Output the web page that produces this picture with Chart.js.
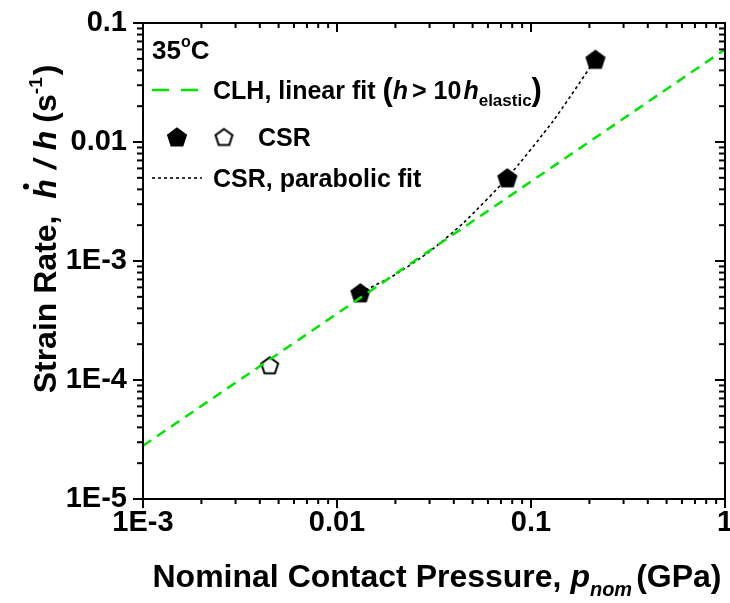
<!DOCTYPE html>
<html>
<head>
<meta charset="utf-8">
<script src="https://cdn.jsdelivr.net/npm/chart.js@4.4.0/dist/chart.umd.min.js"></script>
<style>
body { margin: 0; background: #fff; }
#wrap { width: 730px; height: 603px; }
</style>
</head>
<body>
<div id="wrap"><canvas id="StrainChart"></canvas></div>
<script>
const FONT = '"Liberation Sans", Arial, sans-serif';

// tick labels
const xMajor = [0.001, 0.01, 0.1, 1];
const xLabels = ['1E-3', '0.01', '0.1', '1'];
const yMajor = [1e-5, 1e-4, 1e-3, 0.01, 0.1];
const yLabels = ['1E-5', '1E-4', '1E-3', '0.01', '0.1'];
const minorSteps = [2, 3, 4, 5, 6, 7, 8, 9];

// CSR points (filled) and the open one
const csrX = [0.0132, 0.0755, 0.215];
const csrY = [5.4e-4, 5.0e-3, 0.0495];
const csrOpenX = [0.0045];
const csrOpenY = [1.33e-4];

// CLH linear fit, ends at the frame
const clhX = [0.001, 1];
const clhY = [2.8e-5, 0.06];

// CSR parabolic fit
const paraX = [0.0132, 0.02, 0.03, 0.045, 0.0755, 0.13, 0.215];
const paraY = [5.4e-4, 7.7e-4, 1.2e-3, 2.1e-3, 5.0e-3, 0.015, 0.0495];

const GREEN = '#00e600';

function withMinor(major) {
    const all = [];
    major.forEach((m, i) => {
        all.push(m);
        if (i < major.length - 1) minorSteps.forEach(s => all.push(+(m * s).toPrecision(3)));
    });
    return all;
}
const xTicks = withMinor(xMajor);
const yTicks = withMinor(yMajor);

function pts(xs, ys) { return xs.map((x, i) => ({x: x, y: ys[i]})); }

function pentagon(size, fill) {
    const c = document.createElement('canvas');
    c.width = size; c.height = size;
    const g = c.getContext('2d');
    const r = size / 2 - 1.6;
    g.beginPath();
    for (let i = 0; i < 5; i++) {
        const a = -Math.PI / 2 + i * 2 * Math.PI / 5;
        const px = size / 2 + r * Math.cos(a), py = size / 2 + r * Math.sin(a) + r * 0.1;
        if (i) g.lineTo(px, py); else g.moveTo(px, py);
    }
    g.closePath();
    g.fillStyle = fill; g.fill();
    g.lineWidth = 2; g.strokeStyle = '#000'; g.stroke();
    return c;
}
const penFull = pentagon(22, '#000');
const penOpen = pentagon(21, '#fff');

const B = s => 'bold ' + s + 'px ' + FONT;
const BI = s => 'italic bold ' + s + 'px ' + FONT;

// draws a list of text pieces one after another, returns end x
function rich(ctx, x, y, parts, measureOnly) {
    parts.forEach(p => {
        ctx.font = p.f;
        const w = ctx.measureText(p.t).width;
        if (!measureOnly) {
            ctx.fillText(p.t, x, y + (p.dy || 0));
            if (p.dot) {
                ctx.beginPath();
                ctx.arc(x + w * 0.62, y - p.dot, 3, 0, Math.PI * 2);
                ctx.fill();
            }
        }
        x += w + (p.gap || 0);
    });
    return x;
}

function hline(ctx, x1, x2, y, color, width, dash) {
    ctx.save();
    ctx.strokeStyle = color; ctx.lineWidth = width; ctx.setLineDash(dash);
    ctx.beginPath(); ctx.moveTo(x1, y); ctx.lineTo(x2, y); ctx.stroke();
    ctx.restore();
}

const framePlugin = {
    id: 'frame',
    afterDraw(chart) {
        const {ctx, chartArea: a, scales} = chart;
        ctx.save();
        ctx.strokeStyle = '#000';
        ctx.lineWidth = 2;
        ctx.strokeRect(a.left, a.top, a.right - a.left, a.bottom - a.top);
        const seg = (x1, y1, x2, y2) => { ctx.beginPath(); ctx.moveTo(x1, y1); ctx.lineTo(x2, y2); ctx.stroke(); };
        scales.x.ticks.forEach(t => {
            const px = scales.x.getPixelForValue(t.value);
            const len = xMajor.includes(t.value) ? 9 : 5;
            seg(px, a.bottom, px, a.bottom + len);
            seg(px, a.top, px, a.top + len);
        });
        scales.y.ticks.forEach(t => {
            const py = scales.y.getPixelForValue(t.value);
            const len = yMajor.includes(t.value) ? 10 : 6;
            seg(a.left, py, a.left - len, py);
            seg(a.right, py, a.right - len, py);
        });

        ctx.fillStyle = '#000';
        ctx.textBaseline = 'alphabetic';
        ctx.textAlign = 'left';

        // x title
        const xt = [
            {t: 'Nominal Contact Pressure, ', f: B(32)},
            {t: 'p', f: BI(32)},
            {t: 'nom', f: BI(20), dy: 9, gap: 4},
            {t: '(GPa)', f: B(32)}
        ];
        const xw = rich(ctx, 0, 0, xt, true);
        rich(ctx, 437 - xw / 2, 587, xt);

        // y title
        const yt = [
            {t: 'Strain Rate, ', f: B(32), gap: 8},
            {t: 'h', f: BI(32), dot: 30, gap: 10},
            {t: '/', f: BI(32), gap: 10},
            {t: 'h', f: BI(32), gap: 8},
            {t: '(s', f: B(32)},
            {t: '-1', f: B(19), dy: -14, gap: 2},
            {t: ')', f: B(32)}
        ];
        const yw = rich(ctx, 0, 0, yt, true);
        ctx.save();
        ctx.translate(56, 229 + yw / 2);
        ctx.rotate(-Math.PI / 2);
        rich(ctx, 0, 0, yt);
        ctx.restore();

        // legend
        rich(ctx, 152, 59, [
            {t: '35', f: B(26)},
            {t: 'o', f: B(16), dy: -12},
            {t: 'C', f: B(26)}
        ]);
        hline(ctx, 152, 203, 90, GREEN, 2.5, [17, 12]);
        rich(ctx, 213, 99, [
            {t: 'CLH, linear fit ', f: B(25)},
            {t: '(', f: B(31), dy: 1},
            {t: 'h', f: BI(25), gap: 4},
            {t: '> 10', f: B(25), gap: 2},
            {t: 'h', f: BI(25)},
            {t: 'elastic', f: B(17), dy: 7},
            {t: ')', f: B(31), dy: 1}
        ]);
        ctx.drawImage(penFull, 177 - 11, 137 - 11);
        ctx.drawImage(penOpen, 224 - 10.5, 137 - 10.5);
        rich(ctx, 258, 146, [{t: 'CSR', f: B(25)}]);
        hline(ctx, 152, 202, 178, '#000', 1.6, [3, 3]);
        rich(ctx, 213, 187, [{t: 'CSR, parabolic fit', f: B(25)}]);
        ctx.restore();
    }
};

const tickFont = {family: FONT, size: 29, weight: 'bold'};

new Chart(document.getElementById('StrainChart'), {
    type: 'scatter',
    data: {
        datasets: [
            {
                label: 'CLH, linear fit',
                data: pts(clhX, clhY),
                showLine: true,
                borderColor: GREEN,
                borderWidth: 2.5,
                borderDash: [10, 7],
                pointRadius: 0
            },
            {
                label: 'CSR, parabolic fit',
                data: pts(paraX, paraY),
                showLine: true,
                borderColor: '#000',
                borderWidth: 1.6,
                borderDash: [3, 3],
                tension: 0.2,
                pointRadius: 0
            },
            {
                label: 'CSR',
                data: pts(csrX, csrY),
                pointStyle: penFull
            },
            {
                label: 'CSR open',
                data: pts(csrOpenX, csrOpenY),
                pointStyle: penOpen
            }
        ]
    },
    options: {
        responsive: true,
        maintainAspectRatio: false,
        animation: false,
        layout: {padding: {top: 23, right: 3, left: 0, bottom: 0}},
        scales: {
            x: {
                type: 'logarithmic',
                min: 0.001,
                max: 1,
                afterBuildTicks: s => { s.ticks = xTicks.map(v => ({value: v})); },
                afterFit: s => { s.height = 104; s.paddingLeft = 0; s.paddingRight = 0; },
                grid: {display: false, drawTicks: false},
                border: {display: false},
                ticks: {
                    autoSkip: false, maxRotation: 0, padding: 7, color: '#000', font: tickFont,
                    callback: v => { const i = xMajor.indexOf(v); return i < 0 ? '' : xLabels[i]; }
                }
            },
            y: {
                type: 'logarithmic',
                min: 1e-5,
                max: 0.1,
                afterBuildTicks: s => { s.ticks = yTicks.map(v => ({value: v})); },
                afterFit: s => { s.width = 143; s.paddingTop = 0; s.paddingBottom = 0; },
                grid: {display: false, drawTicks: false},
                border: {display: false},
                ticks: {
                    autoSkip: false, padding: 16, color: '#000', font: tickFont,
                    callback: v => { const i = yMajor.indexOf(v); return i < 0 ? '' : yLabels[i]; }
                }
            }
        },
        plugins: {
            legend: {display: false},
            tooltip: {enabled: false}
        }
    },
    plugins: [framePlugin]
});
</script>
</body>
</html>
